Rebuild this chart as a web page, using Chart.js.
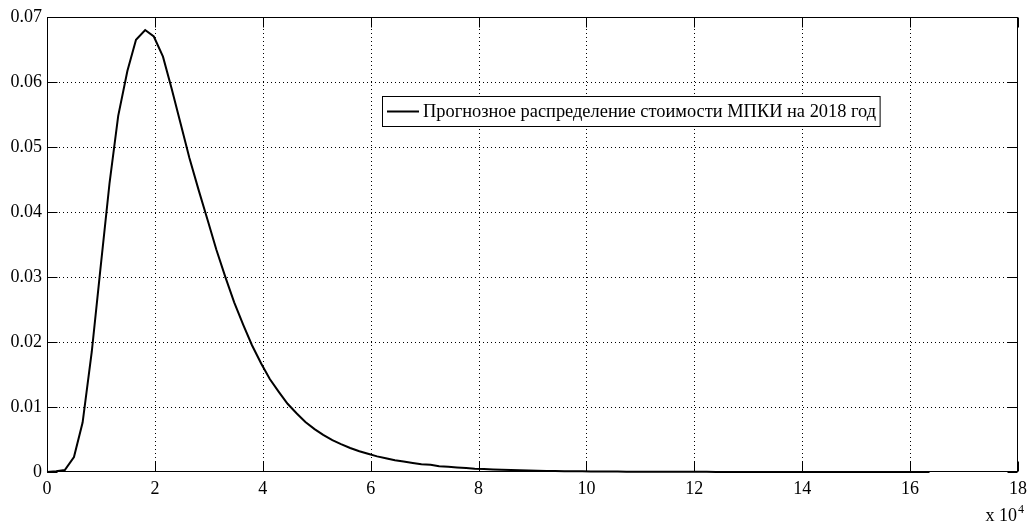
<!DOCTYPE html>
<html>
<head>
<meta charset="utf-8">
<script src="https://cdn.jsdelivr.net/npm/chart.js@4.4.1/dist/chart.umd.min.js"></script>
<style>
  html, body { margin: 0; padding: 0; background: #fff; }
  #c { display: block; }
</style>
</head>
<body>
<canvas id="c" width="1033" height="523"></canvas>
<script>
// x values in units of 10^4
const xValues = [
  0, 0.17, 0.33, 0.50, 0.66, 0.83, 0.99, 1.16, 1.32, 1.49,
  1.65, 1.82, 1.98, 2.15, 2.31, 2.48, 2.64, 2.81, 2.98, 3.14,
  3.31, 3.47, 3.64, 3.80, 3.97, 4.13, 4.30, 4.46, 4.63, 4.79,
  4.96, 5.12, 5.29, 5.45, 5.62, 5.79, 5.95, 6.12, 6.28, 6.45,
  6.61, 6.78, 6.94, 7.11, 7.27, 7.44, 7.60, 7.77, 7.93, 8.10,
  8.27, 8.43, 8.60, 8.76, 8.93, 9.09, 9.26, 9.42, 9.59, 9.75,
  9.92, 10.08, 10.25, 10.41, 10.58, 10.74, 10.91, 11.08, 11.24, 11.41,
  11.57, 11.74, 11.90, 12.07, 12.23, 12.40, 12.56, 12.73, 12.89, 13.06,
  13.22, 13.39, 13.55, 13.72, 13.89, 14.05, 14.22, 14.38, 14.55, 14.71,
  14.88, 15.04, 15.21, 15.37, 15.54, 15.70, 15.87, 16.03, 16.20, 16.36
];
const densityValues = [
  0, 0.0001, 0.0003, 0.0023, 0.0076, 0.0185, 0.0312, 0.0445, 0.0548, 0.0617,
  0.0665, 0.0680, 0.0670, 0.0639, 0.0590, 0.0535, 0.0483, 0.0434, 0.0387, 0.0342,
  0.0299, 0.0261, 0.0226, 0.0195, 0.0167, 0.0143, 0.0123, 0.0105, 0.0090, 0.0077,
  0.0066, 0.0057, 0.0049, 0.0043, 0.0037, 0.0032, 0.0028, 0.0024, 0.0021, 0.0018,
  0.0016, 0.0014, 0.0012, 0.0011, 0.0009, 0.0008, 0.0007, 0.0006, 0.0005, 0.00045,
  0.0004, 0.00035, 0.0003, 0.00026, 0.00023, 0.0002, 0.00017, 0.00015, 0.00013, 0.00011,
  0.0001, 0.00009, 0.00008, 0.00007, 0.00006, 0.000055, 0.00005, 0.000045, 0.00004, 0.000036,
  0.000032, 0.000029, 0.000026, 0.000023, 0.000021, 0.000019, 0.000017, 0.000015, 0.000014, 0.000012,
  0.000011, 0.00001, 0.000009, 0.000008, 0.0000075, 0.000007, 0.0000063, 0.0000057, 0.0000052, 0.0000047,
  0.0000043, 0.0000039, 0.0000035, 0.0000032, 0.0000029, 0.0000026, 0.0000024, 0.0000022, 0.000002, 0.0000018
];
const seriesLabel = 'Прогнозное распределение стоимости МПКИ на 2018 год';
const xTickValues = [0, 2, 4, 6, 8, 10, 12, 14, 16, 18];
const yTickValues = [0, 0.01, 0.02, 0.03, 0.04, 0.05, 0.06, 0.07];
const xExponentBase = 'x 10';
const xExponent = '4';

const FONT = '"Liberation Serif", "Times New Roman", serif';

const framePlugin = {
  id: 'frame',
  beforeDatasetsDraw(chart) {
    const ctx = chart.ctx, a = chart.chartArea;
    const xs = chart.scales.x, ys = chart.scales.y;
    ctx.save();
    ctx.strokeStyle = '#000';
    ctx.lineWidth = 1;
    ctx.setLineDash([1, 3]);
    xTickValues.forEach(v => {
      if (v <= xs.min || v >= xs.max) return;
      const px = Math.round(xs.getPixelForValue(v)) + 0.5;
      ctx.beginPath(); ctx.moveTo(px, a.top); ctx.lineTo(px, a.bottom); ctx.stroke();
    });
    yTickValues.forEach(v => {
      if (v <= ys.min || v >= ys.max) return;
      const py = Math.round(ys.getPixelForValue(v)) + 0.5;
      ctx.beginPath(); ctx.moveTo(a.left, py); ctx.lineTo(a.right, py); ctx.stroke();
    });
    ctx.restore();
  },
  afterDraw(chart) {
    const ctx = chart.ctx, a = chart.chartArea;
    const xs = chart.scales.x, ys = chart.scales.y;
    const L = Math.round(a.left) + 0.5, R = Math.round(a.right) - 0.5;
    const T = Math.round(a.top) + 0.5, B = Math.round(a.bottom) - 0.5;
    ctx.save();
    ctx.strokeStyle = '#000';
    ctx.lineWidth = 1;
    ctx.setLineDash([]);
    ctx.strokeRect(L, T, R - L, B - T);
    const tl = 10;
    xTickValues.forEach(v => {
      const px = Math.round(xs.getPixelForValue(v)) + 0.5;
      ctx.beginPath(); ctx.moveTo(px, B); ctx.lineTo(px, B - tl); ctx.stroke();
      ctx.beginPath(); ctx.moveTo(px, T); ctx.lineTo(px, T + tl); ctx.stroke();
    });
    yTickValues.forEach(v => {
      const py = Math.round(ys.getPixelForValue(v)) + 0.5;
      ctx.beginPath(); ctx.moveTo(L, py); ctx.lineTo(L + tl, py); ctx.stroke();
      ctx.beginPath(); ctx.moveTo(R, py); ctx.lineTo(R - tl, py); ctx.stroke();
    });

    // legend
    ctx.font = '18.4px ' + FONT;
    const label = chart.data.datasets[0].label;
    const tw = ctx.measureText(label).width;
    const bx = 382.5, by = 96.5, bh = 30;
    const textX = 423;
    const bw = (textX - bx) + tw + 4;
    ctx.fillStyle = '#fff';
    ctx.fillRect(bx, by, bw, bh);
    ctx.strokeRect(bx, by, bw, bh);
    ctx.lineWidth = 2;
    ctx.beginPath(); ctx.moveTo(387, by + bh / 2); ctx.lineTo(419, by + bh / 2); ctx.stroke();
    ctx.fillStyle = '#000';
    ctx.textBaseline = 'middle';
    ctx.textAlign = 'left';
    ctx.fillText(label, textX, by + bh / 2 + 1);

    // exponent label
    ctx.textBaseline = 'alphabetic';
    ctx.font = '18px ' + FONT;
    const ew = ctx.measureText(xExponentBase).width;
    ctx.fillText(xExponentBase, 1017 - ew, 521);
    ctx.font = '12px ' + FONT;
    ctx.fillText(xExponent, 1018, 513);
    ctx.restore();
  }
};

new Chart(document.getElementById('c'), {
  type: 'line',
  data: {
    datasets: [{
      label: seriesLabel,
      data: xValues.map((x, i) => ({ x: x, y: densityValues[i] })),
      borderColor: '#000',
      borderWidth: 2,
      pointRadius: 0,
      fill: false,
      tension: 0,
      clip: false
    }]
  },
  options: {
    responsive: false,
    devicePixelRatio: 1,
    animation: false,
    layout: { padding: { top: 17, right: 10, left: 0, bottom: 0 } },
    plugins: { legend: { display: false }, tooltip: { enabled: false } },
    scales: {
      x: {
        type: 'linear', min: 0, max: 18,
        afterBuildTicks: s => { s.ticks = xTickValues.map(v => ({ value: v })); },
        afterFit: s => { s.height = 51; },
        grid: { display: false, drawTicks: false },
        border: { display: false },
        ticks: { color: '#000', font: { family: FONT, size: 18 }, padding: 6, maxRotation: 0, autoSkip: false,
                 callback: v => String(v) }
      },
      y: {
        type: 'linear', min: 0, max: 0.07,
        afterBuildTicks: s => { s.ticks = yTickValues.map(v => ({ value: v })); },
        afterFit: s => { s.width = 47; },
        grid: { display: false, drawTicks: false },
        border: { display: false },
        ticks: { color: '#000', font: { family: FONT, size: 18 }, padding: 5, autoSkip: false,
                 callback: v => (v === 0 ? '0' : v.toFixed(2)) }
      }
    }
  },
  plugins: [framePlugin]
});
</script>
</body>
</html>
